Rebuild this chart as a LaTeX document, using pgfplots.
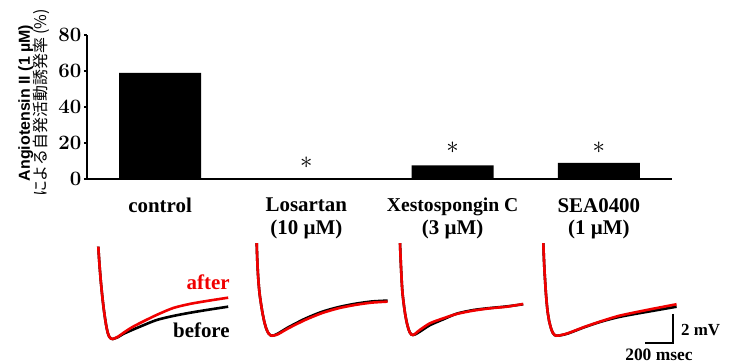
\documentclass[border=0pt]{standalone}
\usepackage{fontspec}
\usepackage{pgfplots}
\pgfplotsset{compat=1.18}
\newfontfamily\cjk{Noto Sans CJK JP}
\newfontfamily\arial{Liberation Sans}
\newfontfamily\tnr{Liberation Serif}
\definecolor{trred}{RGB}{240,0,0}
\pgfplotsset{trace/.style={hide axis, x=0.14bp, y=14.5bp, xmin=0, xmax=960, ymin=-0.6, ymax=6.6,
  enlargelimits=false, clip=false, anchor=origin},
  blk/.style={black, line width=2.6bp, smooth, tension=0.45, no markers},
  rd/.style={trred, line width=2.6bp, smooth, tension=0.45, no markers}}
\begin{document}
\begin{tikzpicture}
\useasboundingbox (0,0) rectangle (731bp,363bp);
\begin{axis}[
  at={(87bp,184bp)}, anchor=south west,
  scale only axis, width=585bp, height=144bp,
  xmin=-0.5, xmax=3.5, ymin=0, ymax=80,
  enlargelimits=false, clip=false,
  axis x line=bottom, axis y line=left,
  axis line style={line width=2.8bp, -},
  ytick={0,20,40,60,80},
  xtick={0,1,2,3},
  xticklabels={control, {Losartan\\(10 µM)}, {\fontsize{19.7}{22.5}\selectfont Xestospongin C\\(3 µM)}, {SEA0400\\(1 µM)}},
  x tick style={draw=none},
  y tick style={line width=2bp, black},
  tick align=outside, major tick length=3bp,
  /pgf/number format/assume math mode=true,
  yticklabel style={font=\fontsize{20.5}{20}\selectfont\bfseries, xshift=1bp},
  xticklabel style={align=center, font=\tnr\bfseries\fontsize{21}{22.5}\selectfont, anchor=north, inner sep=0pt, yshift=-16bp},
  ylabel={{\arial\bfseries Angiotensin II (1 µM)}\\{\cjk による自発活動誘発率 (\%)}},
  ylabel style={align=center, font=\fontsize{16}{17}\selectfont, at={(axis description cs:-0.0905,0.528)}, anchor=center},
  ybar, bar width=82bp,
]
\addplot[fill=black, draw=none] coordinates {(0,59) (1,0) (2,7.5) (3,9)};
\node[font=\fontsize{26}{26}\selectfont] at (axis cs:1,8.9) {$\ast$};
\node[font=\fontsize{26}{26}\selectfont] at (axis cs:2,17.2) {$\ast$};
\node[font=\fontsize{26}{26}\selectfont] at (axis cs:3,17.2) {$\ast$};
\end{axis}

% Panel 1: control
\begin{axis}[trace, at={(98bp,24bp)}]
\addplot[blk] coordinates {(2,6.37)(10,5.2)(20,4.0)(30,3.0)(40,2.15)(50,1.45)(60,0.85)(70,0.42)(80,0.16)(92,0.03)(106,0)(122,0.05)(143,0.13)(181,0.35)(236,0.59)(300,0.85)(419,1.31)(538,1.59)(657,1.81)(776,2.00)(930,2.23)};
\addplot[rd] coordinates {(2,6.37)(10,5.2)(20,4.0)(30,3.0)(40,2.15)(50,1.45)(60,0.85)(70,0.42)(80,0.16)(92,0.03)(106,0)(122,0.06)(143,0.16)(181,0.42)(236,0.77)(300,1.10)(419,1.66)(538,2.14)(657,2.42)(776,2.62)(930,2.85)};
\node[anchor=east, text=trred, font=\tnr\bfseries\fontsize{21}{21}\selectfont, inner sep=0pt] at (axis cs:942,3.93) {after};
\node[anchor=east, font=\tnr\bfseries\fontsize{21}{21}\selectfont, inner sep=0pt] at (axis cs:942,0.62) {before};
\end{axis}

% Panel 2: Losartan
\begin{axis}[trace, at={(256.7bp,27.3bp)}]
\addplot[blk] coordinates {(0,6.38)(4,5.22)(11,3.95)(20,2.95)(30,2.25)(40,1.65)(50,1.15)(60,0.75)(72,0.40)(85,0.15)(98,0.03)(110,0)(125,0.03)(154,0.16)(226,0.58)(345,1.17)(464,1.64)(583,1.97)(702,2.20)(821,2.36)(935,2.42)};
\addplot[rd] coordinates {(0,6.38)(4,5.22)(11,3.95)(20,2.95)(30,2.25)(40,1.65)(50,1.15)(60,0.75)(72,0.40)(85,0.15)(98,0.03)(110,0)(125,0.02)(154,0.11)(226,0.51)(345,1.08)(464,1.55)(583,1.89)(702,2.12)(821,2.28)(935,2.35)};
\end{axis}

% Panel 3: Xestospongin C
\begin{axis}[trace, at={(400bp,28bp)}]
\addplot[blk] coordinates {(0,6.33)(7,4.71)(16,3.11)(26,2.2)(36,1.50)(47,0.92)(59,0.46)(70,0.18)(80,0.04)(92,0)(105,0.03)(120,0.10)(143,0.24)(214,0.68)(309,1.08)(405,1.47)(523,1.72)(643,1.86)(762,1.97)(880,2.12)};
\addplot[rd] coordinates {(0,6.33)(7,4.71)(16,3.11)(26,2.2)(36,1.50)(47,0.92)(59,0.46)(70,0.18)(80,0.04)(92,0)(105,0.06)(120,0.18)(143,0.36)(214,0.81)(309,1.15)(405,1.45)(523,1.68)(643,1.84)(762,1.95)(880,2.14)};
\end{axis}

% Panel 4: SEA0400
\begin{axis}[trace, at={(543.3bp,27.3bp)}]
\addplot[blk] coordinates {(0,6.38)(7,4.76)(17,3.15)(24,2.3)(31,1.65)(42,1.0)(55,0.51)(68,0.20)(80,0.05)(92,0)(110,0.01)(135,0.05)(179,0.16)(298,0.60)(417,0.98)(536,1.28)(655,1.50)(774,1.70)(952,2.00)};
\addplot[rd] coordinates {(0,6.38)(7,4.76)(17,3.15)(24,2.3)(31,1.65)(42,1.0)(55,0.51)(68,0.20)(80,0.05)(92,0)(110,0.01)(135,0.06)(179,0.18)(298,0.62)(417,1.01)(536,1.36)(655,1.61)(774,1.84)(952,2.17)};
\draw[line width=1.6bp] (axis cs:926,1.5) -- (axis cs:926,-0.52) -- (axis cs:726,-0.52);
\node[anchor=west, font=\tnr\bfseries\fontsize{17}{17}\selectfont, inner sep=0pt] at (axis cs:983,0.39) {2 mV};
\node[font=\tnr\bfseries\fontsize{17.5}{17.5}\selectfont, inner sep=0pt] at (axis cs:826,-1.30) {200 msec};
\end{axis}
\end{tikzpicture}
\end{document}
